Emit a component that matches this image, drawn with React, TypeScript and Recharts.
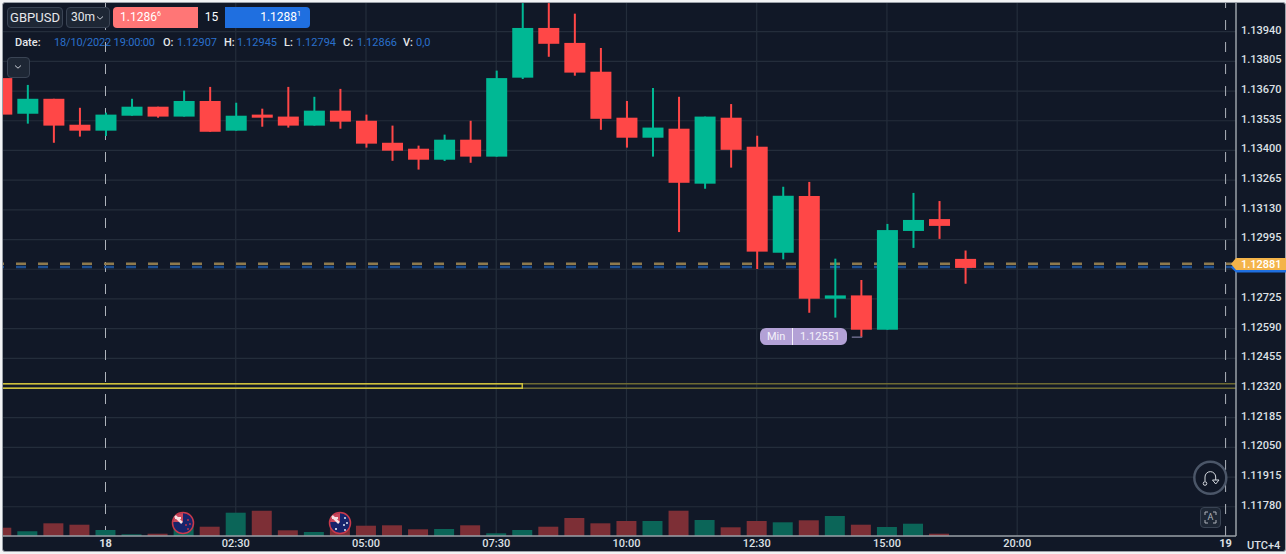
import { Bar, CartesianGrid, Cell, ComposedChart, ReferenceArea, ReferenceLine, XAxis, YAxis } from 'recharts';

// 30m bars, slot 0 is the start of the 18th
const slots = [-4, -3, -2, -1, 0, 1, 2, 3, 4, 5, 6, 7, 8, 9, 10, 11, 12, 13, 14, 15, 16, 17, 18, 19, 20, 21, 22, 23, 24, 25, 26, 27, 28, 29, 30, 31, 32, 33];
const opens = [1.13729, 1.13567, 1.13635, 1.13517, 1.1349, 1.13558, 1.13599, 1.13554, 1.13625, 1.1349, 1.13563, 1.13554, 1.13513, 1.13581, 1.13535, 1.13435, 1.13408, 1.13358, 1.13449, 1.13372, 1.13731, 1.13957, 1.13889, 1.13758, 1.13549, 1.13458, 1.13499, 1.13249, 1.13549, 1.13417, 1.12935, 1.13193, 1.12726, 1.12741, 1.12585, 1.13034, 1.13088, 1.12907];
const closes = [1.13563, 1.13635, 1.13513, 1.1349, 1.13563, 1.13599, 1.13554, 1.13625, 1.13485, 1.13558, 1.13549, 1.13513, 1.13581, 1.13531, 1.13431, 1.13399, 1.13358, 1.13449, 1.13372, 1.13729, 1.13957, 1.13885, 1.13754, 1.13544, 1.13458, 1.13504, 1.13253, 1.13554, 1.13403, 1.1294, 1.13194, 1.12726, 1.12741, 1.12585, 1.13038, 1.13084, 1.13057, 1.12866];
const highs = [1.13729, 1.13698, 1.13635, 1.13594, 1.13572, 1.13635, 1.13599, 1.13672, 1.13689, 1.13617, 1.1359, 1.13689, 1.13644, 1.1368, 1.13563, 1.13513, 1.13422, 1.13472, 1.13535, 1.13763, 1.1407, 1.1407, 1.14022, 1.13866, 1.13625, 1.13684, 1.13644, 1.13554, 1.13611, 1.13467, 1.13235, 1.13257, 1.12908, 1.12811, 1.13066, 1.13207, 1.1317, 1.12945];
const lows = [1.13563, 1.13522, 1.13435, 1.13463, 1.13466, 1.13558, 1.13549, 1.13554, 1.13485, 1.1349, 1.13508, 1.13504, 1.13513, 1.13499, 1.13413, 1.13353, 1.13313, 1.13352, 1.13344, 1.13372, 1.13725, 1.13826, 1.1374, 1.13494, 1.13413, 1.13372, 1.13029, 1.13226, 1.13322, 1.12861, 1.12905, 1.12662, 1.1264, 1.12552, 1.12585, 1.12957, 1.12998, 1.12794];
const volumes = [83, 47, 127, 113, 60, 17, 23, 120, 93, 233, 253, 57, 40, 80, 103, 107, 67, 70, 107, 27, 60, 93, 180, 127, 150, 150, 253, 160, 87, 150, 137, 157, 200, 113, 90, 123, 23, 0];

const priceTicks = [1.1178, 1.11915, 1.1205, 1.12185, 1.1232, 1.12455, 1.1259, 1.12725, 1.12995, 1.1313, 1.13265, 1.134, 1.13535, 1.1367, 1.13805, 1.1394];
const priceGrid = [1.1178, 1.11915, 1.1205, 1.12185, 1.1232, 1.12455, 1.1259, 1.12725, 1.1286, 1.12995, 1.1313, 1.13265, 1.134, 1.13535, 1.1367, 1.13805, 1.1394];
const timeTicks = [0, 5, 10, 15, 20, 25, 30, 35, 43];
const timeLabels = ['18', '02:30', '05:00', '07:30', '10:00', '12:30', '15:00', '20:00', '19'];
const timeGrid = [5, 10, 15, 20, 25, 30, 35];
const dayTicks = [0, 43];

const askLine = 1.12885;
const bidLine = 1.1287;
const zoneTop = 1.12339;
const zoneBottom = 1.12319;
const minPrice = 1.12551;

const UP = '#00b894';
const DOWN = '#ff4747';
const BG = '#111827';
const AXIS = '#9aa0a8';
const TEXT = '#dde0e5';
const BLUE = '#2a70cc';

const rows = slots.map((t, i) => ({
  t,
  open: opens[i],
  close: closes[i],
  high: highs[i],
  low: lows[i],
  range: [lows[i], highs[i]],
  volume: volumes[i],
}));

function Candle(props: any) {
  const { x, y, width, height, payload } = props;
  const h = Math.abs(height);
  const top = Math.min(y, y + height);
  const perPrice = h / (payload.high - payload.low);
  const bodyTop = top + (payload.high - Math.max(payload.open, payload.close)) * perPrice;
  const bodyH = Math.abs(payload.open - payload.close) * perPrice;
  const color = payload.close >= payload.open ? UP : DOWN;
  return (
    <g>
      <rect x={x + width / 2 - 1} y={top} width={2} height={h} fill={color} />
      <rect x={x} y={bodyTop} width={width} height={bodyH} fill={color} />
    </g>
  );
}

function TimeTick(props: any) {
  const { x, y, payload } = props;
  const i = timeTicks.indexOf(payload.value);
  return (
    <text x={x} y={y + 3} textAnchor="middle" fontSize={11} fontWeight={dayTicks.includes(payload.value) ? 700 : 500} fill={TEXT} fontFamily="Roboto">
      {timeLabels[i]}
    </text>
  );
}

function Flag({ x, kind }: { x: number; kind: 'nz' | 'au' }) {
  const stars = kind === 'nz'
    ? [[5, -3, '#b8324a'], [7, 1, '#b8324a'], [3, 2, '#b8324a'], [5, 6, '#b8324a']]
    : [[5, -5, '#dfe6f5'], [7, 0, '#dfe6f5'], [4, 2, '#dfe6f5'], [-4, 6, '#ffffff'], [5, 7, '#dfe6f5']];
  return (
    <svg width={26} height={26} viewBox="-13 -13 26 26" style={{ position: 'absolute', left: x - 13, top: 510 }}>
      <circle r={10.5} fill="#16246b" stroke="#c9394b" strokeWidth={1.5} />
      <path d="M-10 -1 H0 V-10 A10 10 0 0 0 -10 -1 Z" fill="#c9475c" />
      <path d="M-8 -7 L-1 0" stroke="#f5dfe2" strokeWidth={2.5} />
      <path d="M-8 -4 h6 v-2 h-6 z" fill="#f5dfe2" />
      {stars.map(([sx, sy, c], i) => <circle key={i} cx={sx as number} cy={sy as number} r={1} fill={c as string} />)}
    </svg>
  );
}

const Chevron = ({ x, y }: { x: number; y: number }) => (
  <svg width={8} height={6} style={{ position: 'absolute', left: x, top: y }}>
    <path d="M1 1.5 L4 4.2 L7 1.5" fill="none" stroke="#c5cad2" strokeWidth={1} />
  </svg>
);

const label = (left: number, text: string, color: string, weight = 500, spacing = 0) => (
  <span style={{ position: 'absolute', left, top: 36, fontSize: 11, lineHeight: '13px', color, fontWeight: weight, letterSpacing: spacing, whiteSpace: 'nowrap' }}>{text}</span>
);

const button: any = {
  position: 'absolute',
  boxSizing: 'border-box',
  background: '#1e2735',
  border: '1px solid #3a4454',
  borderRadius: 4,
};

export default function App() {
  return (
    <div style={{ position: 'absolute', left: 0, top: 0, width: 1286, height: 554, background: '#f2f3f5', overflow: 'hidden', fontFamily: 'Roboto' }}>
      <div style={{ position: 'absolute', left: 2, top: 2, width: 1284, height: 550, boxSizing: 'border-box', background: BG, border: `1px solid ${AXIS}`, borderRadius: 3 }} />
      <div style={{ position: 'absolute', left: 0, top: 0 }}>
        <ComposedChart width={1286} height={554} data={rows} margin={{ top: 3, right: 0, bottom: 0, left: 3 }}>
          <CartesianGrid xAxisId="time" yAxisId="price" stroke="#242d3b" strokeWidth={1.2} horizontalValues={priceGrid} verticalValues={timeGrid} />
          <XAxis xAxisId="time" type="number" dataKey="t" domain={[-3.935, 43.4]} allowDataOverflow ticks={timeTicks} interval={0} height={18} tick={<TimeTick />} tickLine={false} stroke={AXIS} strokeWidth={1.5} />
          <XAxis xAxisId="vol" type="number" dataKey="t" domain={[-3.935, 43.4]} allowDataOverflow hide />
          <YAxis yAxisId="price" orientation="right" width={50} domain={[1.11647, 1.140705]} allowDataOverflow ticks={priceTicks} interval={0} tickFormatter={(v: number) => v.toFixed(5)} tick={{ fill: TEXT, fontSize: 11, fontWeight: 500, fontFamily: 'Roboto', dy: -2 }} tickLine={false} tickSize={5} tickMargin={0} stroke={AXIS} strokeWidth={1.5} />
          <YAxis yAxisId="vol" hide domain={[0, 5330]} />

          <ReferenceLine xAxisId="time" yAxisId="price" x={0} stroke="#aeb3bb" strokeWidth={1} strokeDasharray="10 12" zIndex={100} />
          <ReferenceLine xAxisId="time" yAxisId="price" x={43} stroke="#aeb3bb" strokeWidth={1} strokeDasharray="10 12" zIndex={100} />

          <Bar xAxisId="vol" yAxisId="vol" dataKey="volume" barSize={20} isAnimationActive={false}>
            {rows.map((r) => (
              <Cell key={r.t} fill={r.close >= r.open ? '#0b6558' : '#7d2f36'} />
            ))}
          </Bar>

          <ReferenceLine xAxisId="time" yAxisId="price" y={zoneTop} stroke="#6e6a33" strokeWidth={1.5} zIndex={100} />
          <ReferenceLine xAxisId="time" yAxisId="price" y={zoneBottom} stroke="#6e6a33" strokeWidth={1.5} zIndex={100} />
          <ReferenceArea xAxisId="time" yAxisId="price" x1={-4.2} x2={16} y1={zoneBottom} y2={zoneTop} ifOverflow="hidden" fill="none" stroke="#cdbf3c" strokeWidth={1.5} />

          <ReferenceLine xAxisId="time" yAxisId="price" y={askLine} stroke="#8f7a4d" strokeWidth={2.5} strokeDasharray="10 12" zIndex={100} />
          <ReferenceLine xAxisId="time" yAxisId="price" y={bidLine} stroke="#1f4f8f" strokeWidth={2.5} strokeDasharray="10 12" zIndex={100} />
          <ReferenceLine xAxisId="time" yAxisId="price" segment={[{ x: 28.65, y: minPrice }, { x: 29.05, y: minPrice }]} stroke="#6b6a8a" strokeWidth={1.5} />

          <Bar xAxisId="time" yAxisId="price" dataKey="range" barSize={21} shape={<Candle />} isAnimationActive={false} />
        </ComposedChart>
      </div>

      {/* toolbar */}
      <div style={{ ...button, left: 7, top: 7, width: 56, height: 21, color: '#e6e8eb', fontSize: 13, lineHeight: '19px', textAlign: 'center' }}>GBPUSD</div>
      <div style={{ ...button, left: 66, top: 7, width: 44, height: 21, color: '#e6e8eb', fontSize: 12, lineHeight: '19px', paddingLeft: 4 }}>30m</div>
      <Chevron x={96} y={15} />
      <div style={{ position: 'absolute', left: 113, top: 7, width: 85, height: 21, background: '#ff7676', borderRadius: '4px 0 0 4px', color: '#fff', fontSize: 12, lineHeight: '21px', paddingLeft: 7, boxSizing: 'border-box' }}>
        1.1286<sup style={{ fontSize: 7, lineHeight: 0 }}>6</sup>
      </div>
      <div style={{ position: 'absolute', left: 198, top: 7, width: 27, height: 21, background: BG, color: '#fff', fontSize: 12, lineHeight: '21px', textAlign: 'center' }}>15</div>
      <div style={{ position: 'absolute', left: 225, top: 7, width: 85, height: 21, background: '#1f6fe0', borderRadius: '0 4px 4px 0', color: '#fff', fontSize: 12, lineHeight: '21px', paddingRight: 9, boxSizing: 'border-box', textAlign: 'right' }}>
        1.1288<sup style={{ fontSize: 7, lineHeight: 0 }}>1</sup>
      </div>

      {/* readout */}
      {label(15, 'Date:', '#e6e8eb')}
      {label(54, '18/10/2022 19:00:00', BLUE, 400, -0.15)}
      {label(163, 'O:', '#e6e8eb')}
      {label(177, '1.12907', BLUE, 400)}
      {label(224, 'H:', '#e6e8eb')}
      {label(237, '1.12945', BLUE, 400)}
      {label(284, 'L:', '#e6e8eb')}
      {label(296, '1.12794', BLUE, 400)}
      {label(343, 'C:', '#e6e8eb')}
      {label(357, '1.12866', BLUE, 400)}
      {label(403, 'V:', '#e6e8eb')}
      {label(416, '0,0', BLUE, 400)}

      <div style={{ ...button, left: 7, top: 57, width: 23, height: 21 }} />
      <Chevron x={14} y={64} />

      {/* min badge */}
      <div style={{ position: 'absolute', left: 760, top: 328, width: 87, height: 17, background: '#b3a1d6', borderRadius: 6, color: '#f4f1fa', fontSize: 11, lineHeight: '17px' }}>
        <span style={{ position: 'absolute', left: 7 }}>Min</span>
        <span style={{ position: 'absolute', left: 32, top: 0, width: 1, height: 17, background: '#f4f1fa' }} />
        <span style={{ position: 'absolute', left: 40 }}>1.12551</span>
      </div>

      <Flag x={183} kind="nz" />
      <Flag x={340} kind="au" />

      {/* current price tag */}
      <svg width={56} height={18} style={{ position: 'absolute', left: 1230, top: 256 }}>
        <path d="M1 11.5 L6 5 H56 V16.5 H6 Z" fill="#1f6fe0" />
        <path d="M1 8 L6 2 H56 V14 H6 Z" fill="#f4b44a" />
        <text x={11} y={12} fontSize={11} fontWeight={500} fill="#fff" fontFamily="Roboto">1.12881</text>
      </svg>

      {/* reset + auto buttons */}
      <svg width={40} height={40} style={{ position: 'absolute', left: 1190, top: 458 }}>
        <circle cx={20.3} cy={19.7} r={16} fill={BG} stroke="#4b5668" strokeWidth={2.5} />
        <path d="M15 23 V19 a5.3 5.3 0 0 1 10.7 0 V22" fill="none" stroke="#d5d9df" strokeWidth={1} />
        <circle cx={15} cy={25.5} r={1.8} fill={BG} stroke="#d5d9df" strokeWidth={1} />
        <path d="M22.5 22 H29 L25.7 26 Z" fill={BG} stroke="#d5d9df" strokeWidth={1} />
      </svg>
      <div style={{ ...button, left: 1200, top: 507, width: 21, height: 21, color: '#aeb3bb', fontSize: 9, lineHeight: '19px', textAlign: 'center' }}>A</div>
      <svg width={13} height={13} style={{ position: 'absolute', left: 1204, top: 511 }}>
        <path d="M1 4 V1 H4 M9 1 H12 V4 M12 9 V12 H9 M4 12 H1 V9" fill="none" stroke="#aeb3bb" strokeWidth={1} />
      </svg>

      <span style={{ position: 'absolute', left: 1247, top: 539, fontSize: 11, lineHeight: '13px', color: TEXT, fontWeight: 500 }}>UTC+4</span>
    </div>
  );
}
